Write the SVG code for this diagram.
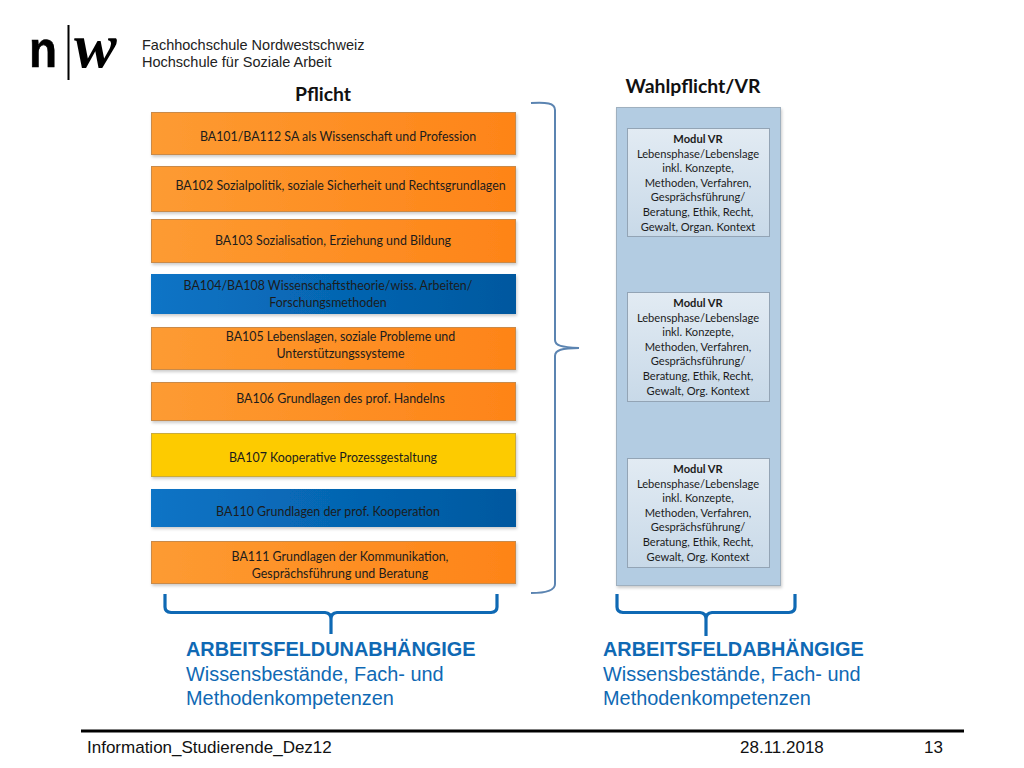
<svg xmlns="http://www.w3.org/2000/svg" width="1024" height="768" viewBox="0 0 1024 768">
<style>
.c{font-family:"Lato","Carlito","Open Sans",sans-serif;font-size:12.4px;fill:#1c1c1c;text-anchor:middle}
.m{font-family:"Lato","Carlito","Open Sans",sans-serif;font-size:11.15px;fill:#1c1c1c;text-anchor:middle}
.b{font-weight:700}
.h{font-family:"Lato","Carlito",sans-serif;font-weight:700;font-size:19.4px;fill:#111;text-anchor:middle}
.a{font-family:"Liberation Sans",Arial,sans-serif;font-size:19.9px;fill:#0f69b4}
.f{font-family:"Liberation Sans",Arial,sans-serif;font-size:17px;fill:#111}
.l{font-family:"Liberation Sans",Arial,sans-serif;font-size:14.5px;fill:#222}
.or{fill:url(#gO);stroke:#c98a4a;stroke-width:1;filter:url(#sh)}
.bl{fill:url(#gB);filter:url(#sh)}
.ye{fill:#fdcb00;stroke:#c9ab3c;stroke-width:1;filter:url(#sh)}
.mo{fill:url(#gM);stroke:#93a4b5;stroke-width:1}
.br{fill:none;stroke:#0f69b4;stroke-width:3.2;stroke-linecap:butt;stroke-linejoin:round}
.bt{fill:none;stroke:#5b84b1;stroke-width:2}
</style>
<defs>
<linearGradient id="gO" x1="0" x2="1" y1="0" y2="0"><stop offset="0" stop-color="#fd9b32"/><stop offset="1" stop-color="#fe8418"/></linearGradient>
<linearGradient id="gB" x1="0" x2="1" y1="0" y2="0"><stop offset="0" stop-color="#0a74c6"/><stop offset="1" stop-color="#02589f"/></linearGradient>
<linearGradient id="gM" x1="0" x2="0" y1="0" y2="1"><stop offset="0" stop-color="#e2ebf3"/><stop offset="1" stop-color="#c8d9e8"/></linearGradient>
<filter id="sh" x="-3%" y="-10%" width="106%" height="125%"><feDropShadow dx="1" dy="2" stdDeviation="1.5" flood-color="#000" flood-opacity="0.2"/></filter>
</defs>
<rect width="1024" height="768" fill="#fff"/>
<g id="logo">
<text x="29" y="67" font-family="Liberation Sans,sans-serif" font-weight="700" font-size="52" fill="#000" stroke="#000" stroke-width="0.6" textLength="28" lengthAdjust="spacingAndGlyphs">n</text>
<rect x="67.500" y="25" width="2" height="55" fill="#000"/>
<text x="74" y="67" font-family="Liberation Serif,serif" font-style="italic" font-weight="700" font-size="64" fill="#000">w</text>
<text class="l" x="142" y="50">Fachhochschule Nordwestschweiz</text>
<text class="l" x="142" y="66.500">Hochschule für Soziale Arbeit</text>
</g>
<text class="h" x="323" y="101">Pflicht</text>
<text class="h" x="693" y="93">Wahlpflicht/VR</text>
<g id="ba101"><rect class="or" x="151.500" y="112.500" width="364" height="42"/><text class="c" x="338" y="141">BA101/BA112 SA als Wissenschaft und Profession</text></g>
<g id="ba102"><rect class="or" x="151.500" y="166.500" width="364" height="45"/><text class="c" x="340.500" y="190">BA102 Sozialpolitik, soziale Sicherheit und Rechtsgrundlagen</text></g>
<g id="ba103"><rect class="or" x="151.500" y="219.500" width="364" height="43"/><text class="c" x="333" y="245">BA103 Sozialisation, Erziehung und Bildung</text></g>
<g id="ba104"><rect class="bl" x="151" y="274" width="365" height="40"/><text class="c" x="328" y="290">BA104/BA108 Wissenschaftstheorie/wiss. Arbeiten/</text><text class="c" x="328" y="307">Forschungsmethoden</text></g>
<g id="ba105"><rect class="or" x="151.500" y="327.500" width="364" height="42"/><text class="c" x="340.500" y="341">BA105 Lebenslagen, soziale Probleme und</text><text class="c" x="340.500" y="358">Unterstützungssysteme</text></g>
<g id="ba106"><rect class="or" x="151.500" y="382.500" width="364" height="38"/><text class="c" x="340.500" y="403">BA106 Grundlagen des prof. Handelns</text></g>
<g id="ba107"><rect class="ye" x="151.500" y="433.500" width="364" height="43"/><text class="c" x="333" y="462">BA107 Kooperative Prozessgestaltung</text></g>
<g id="ba110"><rect class="bl" x="151" y="489" width="365" height="38"/><text class="c" x="328" y="516">BA110 Grundlagen der prof. Kooperation</text></g>
<g id="ba111"><rect class="or" x="151.500" y="541.500" width="364" height="42"/><text class="c" x="340" y="561">BA111 Grundlagen der Kommunikation,</text><text class="c" x="340" y="578">Gesprächsführung und Beratung</text></g>
<g id="wahlpflicht"><rect x="616.500" y="107.500" width="164" height="478" fill="#b3cce2" stroke="#9fb0bf" filter="url(#sh)"/></g>
<g id="modul1"><rect class="mo" x="627.500" y="128.500" width="142" height="108"/>
<text class="m" x="698" y="143"><tspan class="b">Modul VR</tspan><tspan x="698" dy="14.600">Lebensphase/Lebenslage</tspan><tspan x="698" dy="14.600">inkl. Konzepte,</tspan><tspan x="698" dy="14.600">Methoden, Verfahren,</tspan><tspan x="698" dy="14.600">Gesprächsführung/</tspan><tspan x="698" dy="14.600">Beratung, Ethik, Recht,</tspan><tspan x="698" dy="14.600">Gewalt, Organ. Kontext</tspan></text></g>
<g id="modul2"><rect class="mo" x="627.500" y="292.500" width="142" height="109"/>
<text class="m" x="698" y="307"><tspan class="b">Modul VR</tspan><tspan x="698" dy="14.600">Lebensphase/Lebenslage</tspan><tspan x="698" dy="14.600">inkl. Konzepte,</tspan><tspan x="698" dy="14.600">Methoden, Verfahren,</tspan><tspan x="698" dy="14.600">Gesprächsführung/</tspan><tspan x="698" dy="14.600">Beratung, Ethik, Recht,</tspan><tspan x="698" dy="14.600">Gewalt, Org. Kontext</tspan></text></g>
<g id="modul3"><rect class="mo" x="627.500" y="458.500" width="142" height="109"/>
<text class="m" x="698" y="473"><tspan class="b">Modul VR</tspan><tspan x="698" dy="14.600">Lebensphase/Lebenslage</tspan><tspan x="698" dy="14.600">inkl. Konzepte,</tspan><tspan x="698" dy="14.600">Methoden, Verfahren,</tspan><tspan x="698" dy="14.600">Gesprächsführung/</tspan><tspan x="698" dy="14.600">Beratung, Ethik, Recht,</tspan><tspan x="698" dy="14.600">Gewalt, Org. Kontext</tspan></text></g>
<g id="connectors">
<path class="bt" d="M531 103 C546 102 555 103 555 110 L555 340 C555 346 562 347 579 348 C562 348 555 350 555 356 L555 584 C555 590 548 593 531 593"/>
<path class="br" d="M165 594 L165 607 Q165 612 171 612.500 L325 612.500 Q331 613 331 619 L331 634 M331 619 Q331 613 337 612.500 L491 612.500 Q497 612 497 607 L497 594"/>
<path class="br" d="M617 594 L617 607 Q617 612 623 612.500 L700 612.500 Q706 613 706 619 L706 636 M706 619 Q706 613 712 612.500 L789 612.500 Q795 612 795 607 L795 594"/>
</g>
<g id="label-left"><text class="a b" x="186" y="656" font-weight="700">ARBEITSFELDUNABHÄNGIGE</text><text class="a" x="186" y="680.500">Wissensbestände, Fach- und</text><text class="a" x="186" y="704.500">Methodenkompetenzen</text></g>
<g id="label-right"><text class="a b" x="603" y="656" font-weight="700">ARBEITSFELDABHÄNGIGE</text><text class="a" x="603" y="680.500">Wissensbestände, Fach- und</text><text class="a" x="603" y="704.500">Methodenkompetenzen</text></g>
<g id="footer"><rect x="81" y="729.500" width="883" height="3" fill="#000"/>
<text class="f" x="87" y="753">Information_Studierende_Dez12</text><text class="f" x="740" y="753">28.11.2018</text><text class="f" x="924" y="753">13</text></g>
</svg>
